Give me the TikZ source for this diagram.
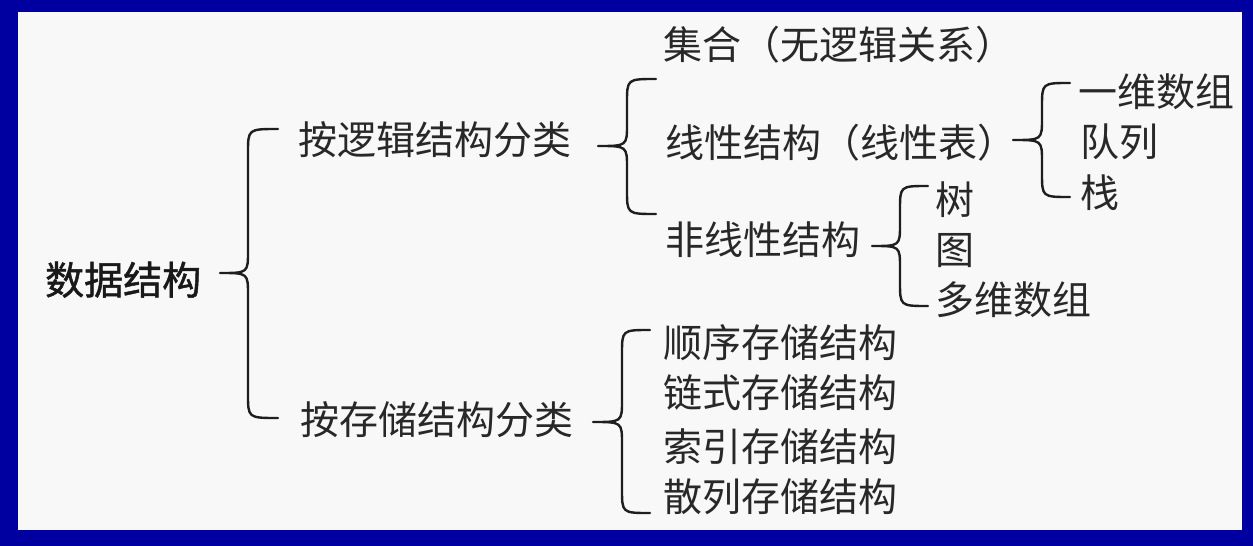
\documentclass[tikz,border=0pt]{standalone}
\usepackage{fontspec}
\newfontfamily\cjk{Noto Sans CJK SC}
\newfontfamily\cjkb[FakeBold=1.2]{Noto Sans CJK SC}
\definecolor{frameblue}{RGB}{0,0,160}
\definecolor{panel}{RGB}{248,248,248}
\definecolor{txt}{RGB}{40,40,40}
\definecolor{brc}{RGB}{30,30,30}
\tikzset{
  lbl/.style={anchor=west, inner sep=0pt, text=txt, text height=34pt, text depth=5pt,
    font=\cjk\fontsize{39}{40}\selectfont},
  rootlbl/.style={lbl, text=black!90, font=\cjkb\fontsize{39}{40}\selectfont},
  bracestyle/.style={draw=brc, line width=2.4pt, line cap=round, line join=round}
}
% #1 x of ends, #2 x of vertical, #3 x of tip, #4 y top, #5 y mid, #6 y bottom
\newcommand{\mybrace}[6]{%
  \draw[bracestyle] (#1,#4) .. controls (#2,#4) .. (#2,{#4+24})
    -- (#2,{#5-22}) .. controls (#2,#5) .. (#3,#5)
    .. controls (#2,#5) .. (#2,{#5+22})
    -- (#2,{#6-24}) .. controls (#2,#6) .. (#1,#6);}
\begin{document}
\begin{tikzpicture}[x=1pt,y=-1pt]
\useasboundingbox (0,0) rectangle (1253,546);
\fill[frameblue] (0,0) rectangle (1253,546);
\fill[panel] (18,12) rectangle (1242,530);

\node[rootlbl] (root) at (45,280) {数据结构};
\node[lbl] (logic) at (298,140) {按逻辑结构分类};
\node[lbl] (store) at (300,420) {按存储结构分类};

\node[lbl] (set) at (663,45) {集合（无逻辑关系）};
\node[lbl] (linear) at (665,143) {线性结构（线性表）};
\node[lbl] (nonlin) at (665,240) {非线性结构};

\node[lbl] (arr1) at (1078,92) {一维数组};
\node[lbl] (queue) at (1080,142) {队列};
\node[lbl] (stack) at (1080,193) {栈};

\node[lbl] (tree) at (935,200) {树};
\node[lbl] (graph) at (935,250) {图};
\node[lbl] (arrn) at (935,300) {多维数组};

\node[lbl] (seq) at (663,343) {顺序存储结构};
\node[lbl] (link) at (663,393) {链式存储结构};
\node[lbl] (index) at (663,447) {索引存储结构};
\node[lbl] (hash) at (663,497) {散列存储结构};

\mybrace{278}{248}{220}{129}{273}{418}
\mybrace{656}{627}{598}{79}{146}{214}
\mybrace{1070}{1042}{1013}{83}{140}{197}
\mybrace{928}{900}{872}{186}{246}{306}
\mybrace{650}{622}{593}{330}{422}{513}
\end{tikzpicture}
\end{document}
